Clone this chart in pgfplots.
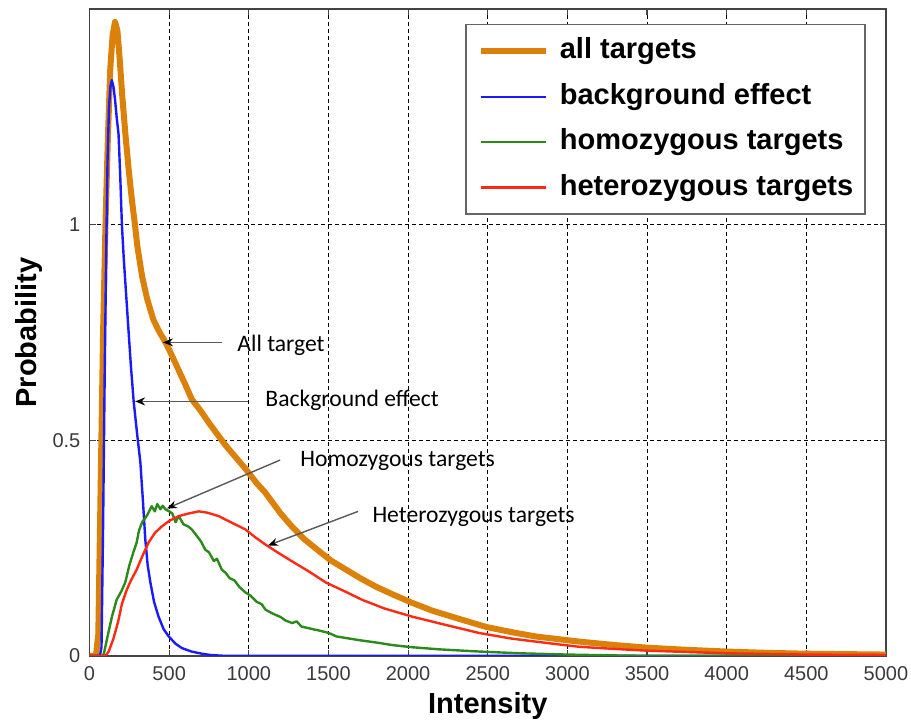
\documentclass[border=0pt]{standalone}
\usepackage{fontspec}
\setmainfont{Liberation Sans}
\newfontfamily\calib{Carlito}
\usepackage{pgfplots}
\pgfplotsset{compat=1.18}
\usetikzlibrary{arrows.meta}

\definecolor{allc}{HTML}{DB8008}
\definecolor{bgc}{HTML}{1A1AFF}
\definecolor{homc}{HTML}{2A8A1A}
\definecolor{hetc}{HTML}{FF2A14}
\definecolor{framec}{HTML}{444444}
\definecolor{tickc}{HTML}{3A3A3A}

\tikzset{annot/.style={draw=black!65, line width=0.7pt, -{Stealth[length=5pt,width=4pt,color=black]}},
         annotext/.style={font=\calib\fontsize{11.8}{14}\selectfont, anchor=west, inner sep=0pt}}

\begin{document}
\begin{tikzpicture}
\useasboundingbox (-44.75pt,-33.75pt) rectangle (410.5pt,327.75pt);
\begin{axis}[
  at={(0,0)}, anchor=south west,
  scale only axis, width=398pt, height=323.25pt,
  xmin=0, xmax=5000, ymin=0, ymax=1.5,
  xtick={0,500,...,5000},
  ytick={0,0.5,1}, yticklabels={0,0.5,1},
  /pgf/number format/set thousands separator={},
  /pgf/number format/assume math mode=true,
  tick align=inside, major tick length=3pt,
  tick style={framec, line width=0.6pt},
  axis line style={framec, line width=0.8pt},
  grid=major,
  major grid style={black, line width=0.5pt, dash pattern=on 2pt off 1.5pt},
  ticklabel style={font=\fontsize{10}{12}\selectfont, text=tickc},
  xticklabel style={inner sep=0pt, yshift=-5pt},
  yticklabel style={inner sep=0pt, xshift=-4.4pt},
  xlabel={\bfseries Intensity},
  ylabel={\bfseries Probability},
  label style={font=\bfseries\fontsize{14.5}{17}\selectfont},
  xlabel style={at={(axis description cs:0.5,-0.0565)}, anchor=north, inner sep=0pt},
  ylabel style={at={(axis description cs:-0.076,0.5)}, anchor=center, inner sep=0pt},
  every axis plot/.append style={line join=round},
  legend cell align=left,
  legend image code/.code={\draw[#1, line cap=butt] (0pt,0pt) -- (32.5pt,0pt);},
  legend style={at={(0.975,0.977)}, anchor=north east,
    draw=black!60, fill=white, line width=0.8pt,
    inner xsep=6pt, inner ysep=6.5pt,
    font=\bfseries\fontsize{14.5}{17}\selectfont,
    row sep=9.1pt, column sep=5.5pt,
    nodes={inner sep=0pt, text height=10.6pt, text depth=3pt}},
]
% all targets
\addplot[allc, line width=3pt] coordinates {
(0,0) (40,0) (55,0.05) (70,0.4) (85,0.75) (100,1.0) (115,1.2) (130,1.36)
(145,1.44) (160,1.47) (175,1.45) (190,1.38) (205,1.30) (225,1.21) (245,1.13)
(265,1.06) (285,1.0) (300,0.95) (330,0.88) (360,0.83) (400,0.78) (440,0.75)
(465,0.735) (500,0.71) (550,0.67) (600,0.63) (642,0.595) (700,0.567) (750,0.54)
(800,0.515) (850,0.49) (900,0.468) (981,0.433) (1050,0.40) (1100,0.38)
(1150,0.355) (1200,0.33) (1270,0.30) (1350,0.27) (1450,0.24) (1520,0.22)
(1610,0.20) (1700,0.18) (1800,0.16) (1900,0.143) (2025,0.123) (2150,0.105)
(2300,0.088) (2490,0.067) (2650,0.055) (2800,0.045) (3075,0.033) (3300,0.025)
(3500,0.019) (3750,0.014) (4000,0.01) (4250,0.007) (4500,0.005) (4750,0.004)
(5000,0.003)};
\addlegendentry{all targets}
% background effect
\addplot[bgc, line width=1.2pt] coordinates {
(0,0) (65,0) (75,0.02) (85,0.3) (95,0.65) (105,0.95) (113,1.15) (122,1.27)
(131,1.32) (140,1.335) (150,1.32) (160,1.29) (170,1.25) (182,1.21) (192,1.12)
(203,1.0) (215,0.92) (240,0.78) (260,0.67) (277,0.59) (300,0.51) (319,0.449)
(335,0.36) (350,0.27) (365,0.21) (382,0.17) (405,0.125) (434,0.09) (465,0.062)
(497,0.045) (540,0.028) (580,0.018) (640,0.01) (705,0.005) (760,0.002)
(850,0) (5000,0)};
\addlegendentry{background effect}
% homozygous targets
\addplot[homc, line width=1.2pt] coordinates {
(0,0) (80,0) (90,0.005) (110,0.04) (140,0.09) (170,0.13) (200,0.15) (224,0.17)
(250,0.21) (275,0.24) (296,0.263) (310,0.29) (330,0.31) (360,0.325) (390,0.347)
(410,0.335) (425,0.352) (445,0.34) (460,0.348) (476,0.34) (500,0.335) (520,0.33)
(540,0.31) (560,0.324) (590,0.305) (620,0.3) (642,0.293) (670,0.28) (700,0.265)
(727,0.246) (750,0.24) (780,0.22) (800,0.225) (830,0.2) (853,0.193) (880,0.18)
(910,0.175) (940,0.16) (979,0.147) (1010,0.14) (1050,0.125) (1080,0.12)
(1105,0.107) (1150,0.098) (1200,0.09) (1230,0.082) (1272,0.076) (1300,0.08)
(1330,0.068) (1400,0.062) (1450,0.058) (1503,0.053) (1550,0.045) (1600,0.042)
(1700,0.036) (1818,0.03) (1900,0.025) (2025,0.02) (2200,0.015) (2446,0.01)
(2700,0.006) (3000,0.003) (3300,0.001) (3500,0) (5000,0)};
\addlegendentry{homozygous targets}
% heterozygous targets
\addplot[hetc, line width=1.2pt] coordinates {
(0,0) (100,0) (120,0.01) (150,0.04) (180,0.08) (203,0.12) (230,0.15) (260,0.175)
(296,0.2) (330,0.23) (371,0.263) (410,0.285) (453,0.30) (500,0.313) (560,0.324)
(620,0.33) (686,0.335) (740,0.332) (811,0.324) (870,0.313) (930,0.302)
(979,0.293) (1040,0.275) (1105,0.258) (1180,0.24) (1272,0.219) (1380,0.195)
(1484,0.17) (1600,0.15) (1711,0.13) (1850,0.11) (2025,0.091) (2200,0.075)
(2446,0.053) (2650,0.04) (2868,0.03) (3075,0.021) (3300,0.016) (3500,0.012)
(3750,0.009) (4000,0.006) (4500,0.003) (5000,0.002)};
\addlegendentry{heterozygous targets}

% call-outs
\draw[annot] (axis cs:832,0.727) -- (axis cs:461,0.727);
\node[annotext] at (axis cs:926,0.72) {All target};
\draw[annot] (axis cs:995,0.59) -- (axis cs:286,0.59);
\node[annotext] at (axis cs:1102,0.593) {Background effect};
\draw[annot] (axis cs:1196,0.454) -- (axis cs:486,0.342);
\node[annotext] at (axis cs:1321,0.451) {Homozygous targets};
\draw[annot] (axis cs:1686,0.335) -- (axis cs:1120,0.256);
\node[annotext] at (axis cs:1774,0.322) {Heterozygous targets};
\end{axis}
\end{tikzpicture}
\end{document}
